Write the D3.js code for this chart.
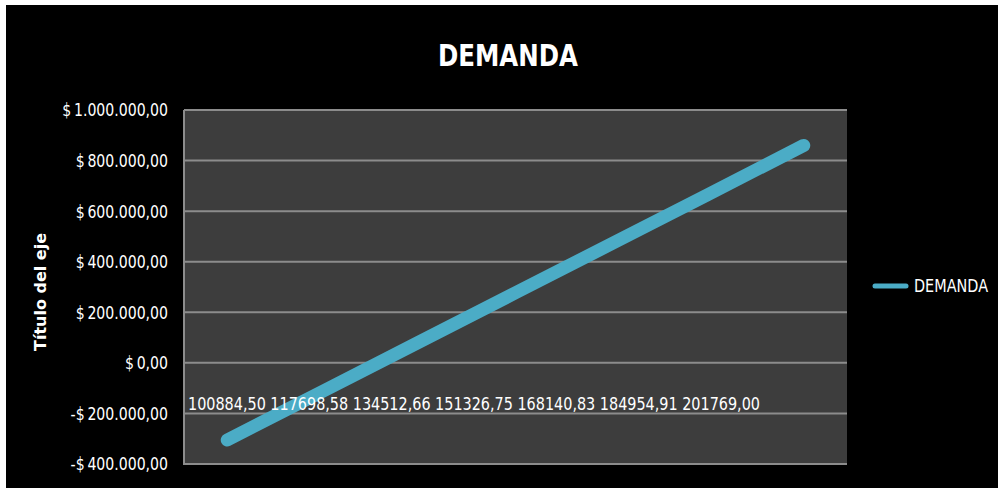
<!DOCTYPE html>
<meta charset="utf-8">
<style>
  body { margin: 0; background: #fff; }
  text { font-family: "Liberation Sans Narrow", "DejaVu Sans Condensed", "Open Sans", sans-serif; fill: #fff; }
</style>
<svg width="998" height="488"></svg>
<script src="https://d3js.org/d3.v7.min.js"></script>
<script>

// data
var categories = ["100884,50", "117698,58", "134512,66", "151326,75", "168140,83", "184954,91", "201769,00"];
var demanda = [-305000, -111000, 83000, 277000, 471000, 665000, 860000];
var yTicks = [-400000, -200000, 0, 200000, 400000, 600000, 800000, 1000000];
var seriesName = "DEMANDA";

var svg = d3.select("svg");

// black chart area with white edge on left / top
svg.append("rect").attr("x", 6).attr("y", 5).attr("width", 992).attr("height", 483).attr("fill", "#000");

var plot = {left: 184, right: 847, top: 110, bottom: 464};

var x = d3.scalePoint().domain(categories).range([plot.left, plot.right]).padding(0.45);
var y = d3.scaleLinear().domain([-400000, 1000000]).range([plot.bottom, plot.top]);

svg.append("rect")
    .attr("x", plot.left).attr("y", plot.top)
    .attr("width", plot.right - plot.left).attr("height", plot.bottom - plot.top)
    .attr("fill", "#3d3d3d");

// gridlines
svg.append("g").selectAll("line")
  .data(yTicks)
  .enter().append("line")
    .attr("x1", plot.left).attr("x2", plot.right)
    .attr("y1", function(d) { return y(d); })
    .attr("y2", function(d) { return y(d); })
    .attr("stroke", "#8c8c8c")
    .attr("stroke-width", 2);

// left axis line
svg.append("line")
    .attr("x1", plot.left).attr("x2", plot.left)
    .attr("y1", plot.top).attr("y2", plot.bottom + 1)
    .attr("stroke", "#8c8c8c").attr("stroke-width", 2);

// y tick labels (squeezed a bit, original font is narrow)
function fmt(v) {
  var s = d3.format(",.2f")(Math.abs(v)).replace(/,/g, "#").replace(".", ",").replace(/#/g, ".");
  return (v < 0 ? "-" : "") + "$\u2009" + s;
}
svg.append("g")
    .attr("transform", "translate(168,0) scale(0.87,1)")
  .selectAll("text")
  .data(yTicks)
  .enter().append("text")
    .attr("x", 0)
    .attr("y", function(d) { return y(d) + 6.5; })
    .attr("text-anchor", "end")
    .attr("font-size", 18)
    .text(fmt);

// line
var line = d3.line()
    .x(function(d, i) { return x(categories[i]); })
    .y(function(d) { return y(d); });

svg.append("path")
    .datum(demanda)
    .attr("d", line)
    .attr("fill", "none")
    .attr("stroke", "#4bacc6")
    .attr("stroke-width", 13)
    .attr("stroke-linecap", "round")
    .attr("stroke-linejoin", "round");

// category labels (packed, as in the original), drawn over the line
svg.append("text")
    .attr("x", 188).attr("y", 410)
    .attr("font-size", 18)
    .attr("textLength", 572)
    .attr("lengthAdjust", "spacingAndGlyphs")
    .text(categories.join(" "));

// title
svg.append("text")
    .attr("x", 508).attr("y", 66)
    .attr("text-anchor", "middle")
    .attr("font-size", 30)
    .attr("font-weight", "bold")
    .attr("textLength", 140)
    .attr("lengthAdjust", "spacingAndGlyphs")
    .text(seriesName);

// axis title
svg.append("text")
    .attr("transform", "translate(46,292) rotate(-90)")
    .attr("text-anchor", "middle")
    .attr("font-size", 16)
    .attr("font-weight", "bold")
    .style("font-family", "'DejaVu Sans', sans-serif")
    .text("Título del eje");

// legend
svg.append("line")
    .attr("x1", 875).attr("x2", 906)
    .attr("y1", 286).attr("y2", 286)
    .attr("stroke", "#4bacc6").attr("stroke-width", 5)
    .attr("stroke-linecap", "round");
svg.append("text")
    .attr("x", 914).attr("y", 292)
    .attr("font-size", 17)
    .attr("textLength", 74)
    .attr("lengthAdjust", "spacingAndGlyphs")
    .text(seriesName);

</script>
